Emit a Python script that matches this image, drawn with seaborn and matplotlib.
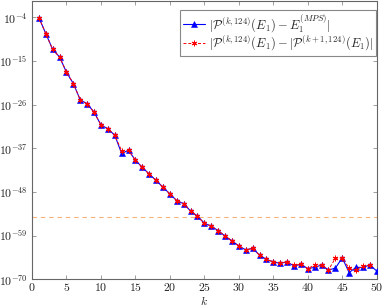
import numpy as np
import pandas as pd
import matplotlib
matplotlib.use("Agg")
import matplotlib.pyplot as plt
import seaborn as sns
from matplotlib.ticker import FixedLocator, FixedFormatter

# ---- data (log10 of the errors) ----
k_values = list(range(1, 51))
log_err_mps = [-4.1, -8.1, -12.1, -14.0, -17.85, -20.7, -24.8, -25.8, -27.9, -31.1,
               -32.1, -33.7, -38.3, -37.5, -40.0, -41.8, -43.5, -45.1, -46.8, -48.5,
               -50.2, -50.95, -52.8, -54.1, -55.9, -56.6, -57.75, -59.1, -60.3, -61.6,
               -62.6, -62.2, -63.9, -65.0, -65.6, -66.0, -65.6, -66.65, -66.2, -67.3,
               -67.0, -66.4, -67.65, -67.2, -64.6, -68.3, -67.0, -67.0, -66.4, -67.9]
k_values_next = list(range(1, 50))
log_err_next = [-4.1, -8.1, -12.1, -14.0, -17.85, -20.7, -24.8, -25.8, -27.9, -31.1,
                -32.1, -33.7, -37.6, -37.5, -40.0, -41.8, -43.5, -45.1, -46.8, -48.5,
                -50.2, -50.95, -52.8, -54.1, -55.9, -56.6, -57.75, -59.1, -60.3, -61.6,
                -62.6, -62.2, -63.9, -65.0, -65.6, -65.9, -65.6, -66.5, -66.2, -67.3,
                -66.4, -66.4, -67.65, -64.7, -64.6, -67.2, -67.65, -66.65, -66.4]
log_threshold = -54.4
x_ticks = list(range(0, 51, 5))
y_tick_exponents = [-4, -15, -26, -37, -48, -59, -70]
label_mps = r"$|\mathcal{P}^{(k,124)}(E_1) - E_1^{(MPS)}|$"
label_next = r"$|\mathcal{P}^{(k,124)}(E_1) - |\mathcal{P}^{(k+1,124)}(E_1)|$"

df_mps = pd.DataFrame({"k": k_values, "err": [10.0 ** v for v in log_err_mps]})
df_next = pd.DataFrame({"k": k_values_next, "err": [10.0 ** v for v in log_err_next]})

sns.set_theme(style="ticks")
plt.rcParams["mathtext.fontset"] = "cm"
plt.rcParams["font.family"] = ["DejaVu Serif"]

fig = plt.figure(figsize=(3.82, 3.07), dpi=100)
ax = fig.add_axes([32 / 382, 1 - 279.3 / 307, 344.7 / 382, 278.3 / 307])
ax.set_yscale("log")

ax.axhline(10.0 ** log_threshold, color="#f5b37a", lw=0.8, ls=(0, (4, 3.5)), zorder=1)

sns.lineplot(data=df_mps, x="k", y="err", ax=ax, color="#0000ff", lw=0.8,
             marker="^", markersize=4.8, markeredgewidth=0.4, markeredgecolor="#0000ff",
             label=label_mps, zorder=3)
sns.lineplot(data=df_next, x="k", y="err", ax=ax, color="#ff0000", lw=0.7,
             linestyle=(0, (3, 2)), marker=(6, 2, 0), markersize=4.0, markeredgewidth=0.7,
             markeredgecolor="#ff0000", label=label_next, zorder=4)

ax.set_xlim(0, 50)
ax.set_ylim(1e-70, 10.0 ** 0.1)

ax.xaxis.set_major_locator(FixedLocator(x_ticks))
ax.xaxis.set_major_formatter(FixedFormatter([f"${t}$" for t in x_ticks]))
ax.yaxis.set_major_locator(FixedLocator([10.0 ** e for e in y_tick_exponents]))
ax.yaxis.set_major_formatter(FixedFormatter([f"$10^{{{e}}}$" for e in y_tick_exponents]))
ax.yaxis.set_minor_locator(FixedLocator([]))
ax.xaxis.set_minor_locator(FixedLocator([]))

ax.tick_params(axis="both", which="major", direction="in", length=3, width=0.5,
               color="#777777", top=True, right=True, labelsize=8.5,
               labelcolor="#222222")
ax.tick_params(axis="x", pad=1.5)
ax.tick_params(axis="y", pad=3)
for s in ax.spines.values():
    s.set_color("#666666")
    s.set_linewidth(0.8)

ax.set_xlabel(r"$k$", fontsize=8.5, color="#222222")
ax.xaxis.set_label_coords(0.5, -0.057)
ax.set_ylabel("")

leg = ax.legend(loc="upper right", bbox_to_anchor=(376 / 382, 1 - 9.5 / 307),
                bbox_transform=fig.transFigure, fontsize=9, frameon=True, fancybox=False,
                edgecolor="#888888", framealpha=1, handlelength=1.8, handletextpad=0.3,
                borderpad=0.2, labelspacing=0.0, borderaxespad=0.0)
leg.get_frame().set_linewidth(0.8)

fig.savefig("out.png", dpi=100)
